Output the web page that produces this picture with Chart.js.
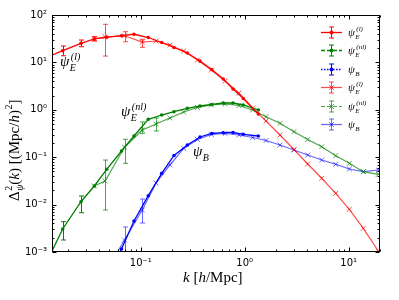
<!DOCTYPE html>
<html>
<head>
<meta charset="utf-8">
<script src="https://cdn.jsdelivr.net/npm/chart.js@4.4.1/dist/chart.umd.min.js"></script>
<style>
  html, body { margin: 0; padding: 0; background: #fff; }
</style>
</head>
<body>
<canvas id="spectrum" width="399" height="300"></canvas>
<script>
// --- data ---
// dot series (first point sits just left of the frame)
const kDots = [0.01199, 0.01774, 0.02661, 0.03573, 0.04701, 0.06527, 0.08607, 0.1181, 0.1590,
  0.2087, 0.2803, 0.3713, 0.4812, 0.6220, 0.7712, 0.9687, 1.351];
const psiElDots = [12.4, 17.65, 25.3, 31.2, 33.8, 36.6, 39.2, 33.5, 26.3, 20.6, 15.8, 10.7, 7.08,
  4.47, 2.75, 1.73, 0.815];
const psiEnlDots = [5.19e-4, 0.003056, 0.01151, 0.02469, 0.05556, 0.1351, 0.2801, 0.6302, 0.7767,
  0.9118, 1.076, 1.203, 1.294, 1.391, 1.391, 1.263, 0.990];
const psiBDots = [null, null, null, null, 2.33e-4, 0.001157, 0.004508, 0.01541, 0.04573, 0.1086,
  0.1809, 0.2668, 0.3162, 0.3288, 0.3320, 0.3041, 0.2801];

// cross series
const kCross = [0.03573, 0.04529, 0.0698, 0.1034, 0.1404, 0.1906, 0.2588, 0.3512, 0.4770, 0.6474,
  0.8788, 1.193, 1.602, 2.184, 2.977, 4.034, 5.501, 7.499, 10.14, 13.82, 19.27];
const psiElCross = [31.2, 34.8, 36.4, 26.9, 28.3, 23.3, 17.4, 11.2, 6.91, 4.05, 2.26, 1.09, 0.580,
  0.294, 0.1453, 0.0719, 0.0359, 0.0173, 0.00796, 0.00316, 0.00105];
const psiEnlCross = [0.02469, 0.03147, 0.1618, 0.3749, 0.5017, 0.6714, 0.8987, 1.118, 1.263, 1.326,
  1.232, 0.990, 0.7152, 0.5190, 0.3451, 0.2362, 0.1665, 0.1075, 0.07435, 0.04943, 0.04356];
const psiBCross = [null, 3.62e-4, 0.001791, 0.007692, 0.02855, 0.06847, 0.1527, 0.2362, 0.3012,
  0.3162, 0.2940, 0.2604, 0.2250, 0.1809, 0.1418, 0.1113, 0.08728, 0.07083, 0.05637, 0.04943, 0.05370];

// error bars [low, high], null where there is none
const errElDots = [null, [13.8, 22.2], [21.4, 29.7], [28.3, 34.8]];
const errEnlDots = [null, [0.001791, 0.004357], [0.006749, 0.01519]];
const errElCross = [null, [13.6, 63.7], [27.3, 44.4], [20.8, 30.7]];
const errEnlCross = [null, [0.007692, 0.08728], [0.07435, 0.2385], [0.3193, 0.5529], [0.357, 0.6714]];
const errBCross = [null, null, [8.23e-4, 0.003369], [0.004090, 0.01312]];

const xTicks = [0.1, 1, 10];
const yTicks = [1e-3, 1e-2, 1e-1, 1, 10, 100];

const RED = '#ff0000', GREEN = '#008000', BLUE = '#0000ff';
const RED_L = 'rgba(255,0,0,0.7)', GREEN_L = 'rgba(0,128,0,0.7)', BLUE_L = 'rgba(0,0,255,0.6)';

const pts = (ks, vs) => ks.map((k, i) => ({ x: k, y: vs[i] }));

function dotSet(vals, color, err) {
  return {
    data: pts(kDots, vals), borderColor: color, backgroundColor: color, borderWidth: 1.3,
    pointStyle: 'circle', pointRadius: 1.8, pointBorderWidth: 0, err: err, errColor: color
  };
}
function crossSet(vals, color, err) {
  return {
    data: pts(kCross, vals), borderColor: color, backgroundColor: color, borderWidth: 1.2,
    pointStyle: 'crossRot', pointRadius: 3.4, pointBorderWidth: 1, err: err, errColor: color
  };
}

const SUP = { '-': '⁻', '0': '⁰', '1': '¹', '2': '²', '3': '³' };
const powLabel = v => '10' + String(Math.round(Math.log10(v))).split('').map(c => SUP[c]).join('');

// draws text pieces left to right; "hold" pieces (superscripts) share x with the next piece
function mathText(ctx, x, y, pieces, draw = true) {
  let cx = x, held = 0;
  pieces.forEach(p => {
    ctx.font = p.f;
    const w = ctx.measureText(p.t).width;
    if (draw) ctx.fillText(p.t, cx + (p.dx || 0), y + (p.dy || 0));
    if (p.hold) { held = w; return; }
    cx += Math.max(w, held) + (p.gap || 0);
    held = 0;
  });
  return cx - x;
}

const SERIF = '"Liberation Serif", "DejaVu Serif", serif';
const it = s => `italic ${s}px ${SERIF}`;
const up = s => `${s}px ${SERIF}`;

function psi(sup, sub, size, small) {
  const out = [{ t: 'ψ', f: it(size), gap: 0.5 }];
  if (sup) out.push({ t: sup, f: it(small), dy: -size * 0.42, hold: true, dx: 1 });
  out.push({ t: sub, f: it(small), dy: size * 0.33 });
  return out;
}

const errorBars = {
  id: 'errorBars',
  afterDatasetsDraw(chart) {
    const { ctx, chartArea: a, scales: { x, y } } = chart;
    ctx.save();
    ctx.beginPath();
    ctx.rect(a.left, a.top, a.right - a.left, a.bottom - a.top);
    ctx.clip();
    chart.data.datasets.forEach(ds => {
      if (!ds.err) return;
      ctx.strokeStyle = ds.errColor;
      ctx.lineWidth = 1;
      ds.err.forEach((e, i) => {
        if (!e) return;
        const px = Math.round(x.getPixelForValue(ds.data[i].x)) + 0.5;
        const lo = y.getPixelForValue(e[0]), hi = y.getPixelForValue(e[1]);
        ctx.beginPath();
        ctx.moveTo(px, lo); ctx.lineTo(px, hi);
        ctx.moveTo(px - 2.5, lo); ctx.lineTo(px + 2.5, lo);
        ctx.moveTo(px - 2.5, hi); ctx.lineTo(px + 2.5, hi);
        ctx.stroke();
      });
    });
    ctx.restore();
  }
};

const frame = {
  id: 'frame',
  afterDraw(chart) {
    const { ctx, chartArea: a, scales: { x, y } } = chart;
    ctx.save();
    ctx.strokeStyle = '#000';
    ctx.lineWidth = 1;
    const L = Math.round(a.left) + 0.5, R = Math.round(a.right) - 0.5;
    const T = Math.round(a.top) + 0.5, B = Math.round(a.bottom) - 0.5;
    ctx.strokeRect(L, T, R - L, B - T);
    ctx.beginPath();
    for (let d = -2; d <= 1; d++) {
      for (let m = 1; m <= 9; m++) {
        const v = m * Math.pow(10, d);
        if (v < x.min || v > x.max) continue;
        const p = Math.round(x.getPixelForValue(v)) + 0.5, len = m === 1 ? 4 : 2;
        ctx.moveTo(p, B); ctx.lineTo(p, B - len);
        ctx.moveTo(p, T); ctx.lineTo(p, T + len);
      }
    }
    for (let d = -3; d <= 1; d++) {
      for (let m = 1; m <= 9; m++) {
        const v = m * Math.pow(10, d);
        if (v < y.min || v > y.max) continue;
        const p = Math.round(y.getPixelForValue(v)) + 0.5, len = m === 1 ? 4 : 2;
        ctx.moveTo(L, p); ctx.lineTo(L + len, p);
        ctx.moveTo(R, p); ctx.lineTo(R - len, p);
      }
    }
    ctx.stroke();

    ctx.fillStyle = '#000';
    ctx.textBaseline = 'alphabetic';
    // axis titles
    mathText(ctx, 183, 282, [
      { t: 'k', f: it(15) }, { t: ' [', f: up(15) }, { t: 'h', f: it(15) }, { t: '/Mpc]', f: up(15) }
    ]);
    ctx.save();
    ctx.translate(19, 201);
    ctx.rotate(-Math.PI / 2);
    mathText(ctx, 0, 0, [
      { t: 'Δ', f: up(15), gap: 0.5 }, { t: '2', f: up(10), dy: -7, hold: true },
      { t: 'ψ', f: it(10), dy: 4 }, { t: '(', f: up(15) }, { t: 'k', f: it(15) },
      { t: ') [(Mpc/', f: up(15) }, { t: 'h', f: it(15) }, { t: ')', f: up(15), gap: 0.5 },
      { t: '2', f: up(10), dy: -7 }, { t: ']', f: up(15) }
    ]);
    ctx.restore();

    // curve labels
    mathText(ctx, 60, 66, psi('(l)', 'E', 15, 10));
    mathText(ctx, 121, 116, psi('(nl)', 'E', 15, 10));
    mathText(ctx, 193, 156, psi(null, 'B', 15, 10));

    // legend
    const entries = [
      { c: RED, dash: [], mark: 'dot', sup: '(l)', sub: 'E' },
      { c: GREEN, dash: [4, 2], mark: 'dot', sup: '(nl)', sub: 'E' },
      { c: BLUE, dash: [1.5, 1.5], mark: 'dot', sup: null, sub: 'B' },
      { c: RED_L, dash: [], mark: 'x', sup: '(l)', sub: 'E' },
      { c: GREEN_L, dash: [4, 2], mark: 'x', sup: '(nl)', sub: 'E' },
      { c: BLUE_L, dash: [], mark: 'x', sup: null, sub: 'B' }
    ];
    entries.forEach((e, i) => {
      const cy = Math.round(32 + i * 18.4) + 0.5, x0 = 321, x1 = 342, xm = 331.5;
      ctx.strokeStyle = e.c; ctx.fillStyle = e.c;
      ctx.lineWidth = e.mark === 'dot' ? 1.3 : 1.2;
      ctx.setLineDash(e.dash);
      ctx.beginPath(); ctx.moveTo(x0, cy); ctx.lineTo(x1, cy); ctx.stroke();
      ctx.setLineDash([]);
      ctx.lineWidth = 1;
      ctx.beginPath();
      ctx.moveTo(xm, cy - 5.5); ctx.lineTo(xm, cy + 5.5);
      ctx.moveTo(xm - 2.5, cy - 5.5); ctx.lineTo(xm + 2.5, cy - 5.5);
      ctx.moveTo(xm - 2.5, cy + 5.5); ctx.lineTo(xm + 2.5, cy + 5.5);
      ctx.stroke();
      if (e.mark === 'dot') {
        ctx.beginPath(); ctx.arc(xm, cy, 2, 0, Math.PI * 2); ctx.fill();
      } else {
        ctx.beginPath();
        ctx.moveTo(xm - 2.4, cy - 2.4); ctx.lineTo(xm + 2.4, cy + 2.4);
        ctx.moveTo(xm - 2.4, cy + 2.4); ctx.lineTo(xm + 2.4, cy - 2.4);
        ctx.stroke();
      }
      ctx.fillStyle = '#000';
      mathText(ctx, 348, cy + 3, psi(e.sup, e.sub, 11, 7));
    });
    ctx.restore();
  }
};

new Chart(document.getElementById('spectrum'), {
  type: 'scatter',
  data: {
    datasets: [
      dotSet(psiElDots, RED, errElDots),
      dotSet(psiEnlDots, GREEN, errEnlDots),
      dotSet(psiBDots, BLUE, null),
      crossSet(psiElCross, RED_L, errElCross),
      crossSet(psiEnlCross, GREEN_L, errEnlCross),
      crossSet(psiBCross, BLUE_L, errBCross)
    ].map(ds => Object.assign(ds, { showLine: true, tension: 0, clip: 0, spanGaps: false }))
  },
  options: {
    responsive: false,
    animation: false,
    layout: { padding: { left: 0, right: 19, top: 15, bottom: 0 } },
    plugins: { legend: { display: false }, tooltip: { enabled: false } },
    scales: {
      x: {
        type: 'logarithmic', min: 0.014, max: 20,
        afterBuildTicks: s => { s.ticks = xTicks.map(v => ({ value: v })); },
        afterFit: s => { s.height = 48; },
        grid: { display: false, drawTicks: false },
        border: { display: false },
        ticks: { callback: v => powLabel(v), color: '#000', padding: 5, maxRotation: 0,
          font: { family: '"DejaVu Sans"', size: 10 } }
      },
      y: {
        type: 'logarithmic', min: 1e-3, max: 100,
        afterBuildTicks: s => { s.ticks = yTicks.map(v => ({ value: v })); },
        afterFit: s => { s.width = 52; },
        grid: { display: false, drawTicks: false },
        border: { display: false },
        ticks: { callback: v => powLabel(v), color: '#000', padding: 5,
          font: { family: '"DejaVu Sans"', size: 10 } }
      }
    }
  },
  plugins: [errorBars, frame]
});
</script>
</body>
</html>
